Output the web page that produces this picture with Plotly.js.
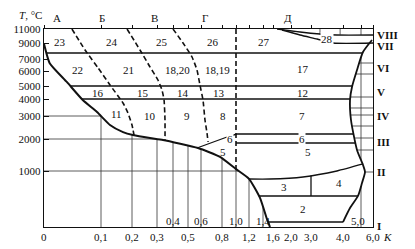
<!DOCTYPE html>
<html><head><meta charset="utf-8">
<script src="https://cdn.plot.ly/plotly-3.0.1.min.js"></script>
<style>html,body{margin:0;padding:0;background:#fff}#chart{width:415px;height:249px}</style>
</head><body><div id="chart"></div>
<script>
// ---------- tick labels / categories ----------
const xTickVals=[0,0.1,0.2,0.3,0.4,0.5,0.6,0.8,1.0,1.2,1.4,1.6,2.0,3.0,4.0,5.0,6.0];
const xTickText=['0','0,1','0,2','0,3','0,4','0,5','0,6','0,8','1,0','1,2','1,4','1,6','2,0','3,0','4,0','5,0','6,0'];
const xUpperRow=[0.4,0.6,1.0,1.4,5.0];
const yTickVals=[0,1000,2000,3000,4000,5000,6000,7000,9000,11000];
const yTickText=['','1000','2000','3000','4000','5000','6000','7000','9000','11000'];
const columnLetters=['А','Б','В','Г','Д'];
const zoneNumerals=['VIII','VII','VI','V','IV','III','II','I'];
const zoneLabels=['23','24','25','26','27','28','22','21','18,20','18,19','17','16','15','14','13','12','11','10','9','8','7','6','6','5','5','3','4','2'];

// ---------- curves (K, T) ----------
const mainK=[0,0.01,0.04,0.068,0.093,0.129,0.171,0.204,0.272,0.3375,0.577,0.781,1.0,1.2,1.357,1.48,1.54];
const mainT=[8900,6650,5270,3940,3235,2610,2300,2170,2040,1970,1720,1440,1060,860,520,140,0];
const edgeK=[5.917,5.167,4.778,4.5,4.389,4.444,4.778,5.167,5.333,5.083,4.833,4.389,4.0];
const edgeT=[9429,7875,6083,4923,3941,2826,1656,1188,982,786,554,339,89];
const dash1K=[0.049,0.072,0.095,0.129,0.171,0.187,0.2,0.208];
const dash1T=[11000,8125,6250,5067,3765,3176,2609,2174];
const dash2K=[0.184,0.232,0.272,0.306,0.331,0.344,0.35,0.35];
const dash2T=[11000,8125,6333,5400,4692,3941,2826,1960];
const dash3K=[0.4,0.467,0.531,0.569,0.592,0.619,0.638,0.657,0.667];
const dash3T=[11000,9000,7250,6083,5067,3941,2826,2261,1906];
const dash4K=[1.0,1.0];
const dash4T=[11000,1060];
const zone6TopK=[0.569,0.714,0.911,1.015,4.58];
const zone6TopT=[1719,1906,2130,2217,2217];
const zone6BotK=[1.0,4.7];
const zone6BotT=[1875,1875];
const zone5BotK=[1.2,1.54,2.6,3.81,5.17];
const zone5BotT=[857,857,893,1000,1219];
const zone2TopK=[1.34,4.83];
const zone2TopT=[554,554];
const zone34K=[3.0,3.0];
const zone34T=[554,918];
const zone2BotK=[1.5,4.0];
const zone2BotT=[89,89];
const z28UpK=[1.689,2.45,3.28,3.81,6.0];
const z28UpT=[11000,10571,10286,10143,10143];
const z28LoK=[1.8,2.45,3.19,3.69,6.0];
const z28LoT=[10857,10143,9571,9000,9000];
const rowLineT=[7750,5000,4000];
const gridK=[0.1,0.2,0.3,0.4,0.5,0.6,0.8,1.0,1.2,1.4];
const gridT=[1000,2000,3000];
const rightGridT=[6667,5800,4154,3471,3059,2565,2043,1656,982];
const k5Ranges=[[10143,11000],[1344,7250],[0,732]];
const rulerK=[3.28,3.91];

// ---------- nonlinear scale of the original figure ----------
const xScalePos=[0,57,88,113,129,144,157,178,192,205,219,229,247,267,299,317,329];
const yScalePos=[0,56,88,111,128,141,156,168,184,198];
const XW=329, YH=198;
function interp(v,xs,ys){
  if(v<=xs[0]) return ys[0]+(v-xs[0])*(ys[1]-ys[0])/(xs[1]-xs[0]);
  for(let i=0;i<xs.length-1;i++){
    if(v<=xs[i+1]) return ys[i]+(v-xs[i])*(ys[i+1]-ys[i])/(xs[i+1]-xs[i]);
  }
  const n=xs.length-1;
  return ys[n]+(v-xs[n])*(ys[n]-ys[n-1])/(xs[n]-xs[n-1]);
}
const sx=k=>interp(k,xTickVals,xScalePos);
const sy=t=>interp(t,yTickVals,yScalePos);
const poly=(K,T)=>K.map((k,i)=>[sx(k),sy(T[i])]);
function crossX(p,yv){
  for(let i=0;i<p.length-1;i++){
    const a=p[i],b=p[i+1];
    if((a[1]-yv)*(b[1]-yv)<=0 && a[1]!==b[1]) return a[0]+(yv-a[1])/(b[1]-a[1])*(b[0]-a[0]);
  }
  return null;
}
function crossY(p,xv){
  for(let i=0;i<p.length-1;i++){
    const a=p[i],b=p[i+1];
    if((a[0]-xv)*(b[0]-xv)<=0 && a[0]!==b[0]) return a[1]+(xv-a[0])/(b[0]-a[0])*(b[1]-a[1]);
  }
  return null;
}
const mc=poly(mainK,mainT);
const bd=poly(edgeK,edgeT);

function group(){return {x:[],y:[]};}
function add(g,pts){pts.forEach(p=>{g.x.push(p[0]);g.y.push(p[1]);});g.x.push(null);g.y.push(null);}

const grid=group();
gridK.forEach(k=>{const x=sx(k);add(grid,[[x,0],[x,crossY(mc,x)]]);});
gridT.forEach(t=>{const y=sy(t);add(grid,[[0,y],[crossX(mc,y),y]]);});
rightGridT.forEach(t=>{const y=sy(t);add(grid,[[crossX(bd,y),y],[sx(6.0),y]]);});
k5Ranges.forEach(r=>{add(grid,[[sx(5.0),sy(r[0])],[sx(5.0),sy(r[1])]]);});
rulerK.forEach(k=>{add(grid,[[sx(k),sy(10200)],[sx(k),sy(11000)]]);});

const solid=group();
rowLineT.forEach(t=>{const y=sy(t);add(solid,[[crossX(mc,y),y],[crossX(bd,y),y]]);});
[[zone6TopK,zone6TopT],[zone6BotK,zone6BotT],[zone2TopK,zone2TopT],[zone34K,zone34T],[zone2BotK,zone2BotT]]
  .forEach(d=>add(solid,poly(d[0],d[1])));

const curvy=group();
[[zone5BotK,zone5BotT],[z28UpK,z28UpT],[z28LoK,z28LoT]].forEach(d=>add(curvy,poly(d[0],d[1])));

const dashed=group();
[[dash1K,dash1T],[dash2K,dash2T],[dash3K,dash3T],[dash4K,dash4T]].forEach(d=>add(dashed,poly(d[0],d[1])));

const mk=(g,w,extra)=>Object.assign({type:'scatter',mode:'lines',x:g.x,y:g.y,hoverinfo:'skip',showlegend:false,cliponaxis:false,
  line:Object.assign({color:'#111',width:w},extra||{})});
const mainG=group(); add(mainG,mc);
const edgeG=group(); add(edgeG,bd);

const data=[
  mk(grid,0.8,{color:'#333'}),
  mk(solid,1.3),
  mk(curvy,1.3,{shape:'spline',smoothing:0.6}),
  mk(dashed,1.6,{dash:'5px,3px',shape:'spline',smoothing:0.5}),
  mk(mainG,2.0,{shape:'spline',smoothing:0.5}),
  mk(edgeG,1.8,{shape:'spline',smoothing:0.6})
];
data.push({type:'scatter',mode:'markers',x:[0],y:[0],xaxis:'x2',marker:{opacity:0},hoverinfo:'skip',showlegend:false});

// ---------- annotations (positions in plot units; paper refs so outside labels show) ----------
const F={family:'Liberation Serif, Times New Roman, serif',size:11,color:'#111'};
const ann=[];
function note(x,y,text,extra){
  ann.push(Object.assign({xref:'paper',yref:'paper',x:x/XW,y:y/YH,xanchor:'center',yanchor:'middle',
    text:text,showarrow:false,font:F},extra||{}));
}
const zonePos=[[16,185],[68,185],[118,185],[169,185],[220,185],[283,188],[33,157],[84,157],[133,157],[173,157],[259,158],
  [54,134],[99,134],[139,134],[175,134],[258,134],[72,113],[106,111],[143,111],[179,111],[258,111],
  [186,88],[258,88],[179,75],[264,75],[240,40],[295,44],[259,18]];
zoneLabels.forEach((t,i)=>{
  const bg=(t==='28'||t==='6')?'#fff':'rgba(0,0,0,0)';
  note(zonePos[i][0],zonePos[i][1],t,{bgcolor:bg,borderpad:0});
});
const letterPos=[13,58,110,161,244];
columnLetters.forEach((t,i)=>note(letterPos[i],209,t));
const numeralY=[192,181,159,135,111,85,55,1];
zoneNumerals.forEach((t,i)=>note(331,numeralY[i],t,{xanchor:'left',font:Object.assign({},F,{weight:'bold'})}));
xTickVals.forEach((v,i)=>{
  const up=xUpperRow.includes(v);
  note(sx(v)-(v===5.0?3:0),up?6:-10,xTickText[i]);
});
note(343,-10,'<i>K</i>');
note(-14,212,'<i>T</i>, °C');

const layout={
  width:415,height:249,
  margin:{l:44,r:42,t:29,b:22,pad:0},
  paper_bgcolor:'#fff',plot_bgcolor:'#fff',
  xaxis:{range:[0,XW],showgrid:false,zeroline:false,showline:true,mirror:true,linecolor:'#111',linewidth:1.3,
    showticklabels:false,ticks:''},
  xaxis2:{overlaying:'x',side:'top',range:[0,XW],tickvals:xScalePos,ticks:'outside',ticklen:3,tickcolor:'#111',
    showticklabels:false,showgrid:false,zeroline:false,showline:false},
  yaxis:{range:[0,YH],showgrid:false,zeroline:false,showline:true,mirror:true,linecolor:'#111',linewidth:1.3,
    tickvals:yScalePos,ticktext:yTickText,ticks:'inside',ticklen:5,tickcolor:'#111',tickfont:F},
  annotations:ann,
  showlegend:false
};
Plotly.newPlot('chart',data,layout,{staticPlot:true,displayModeBar:false});
</script></body></html>
